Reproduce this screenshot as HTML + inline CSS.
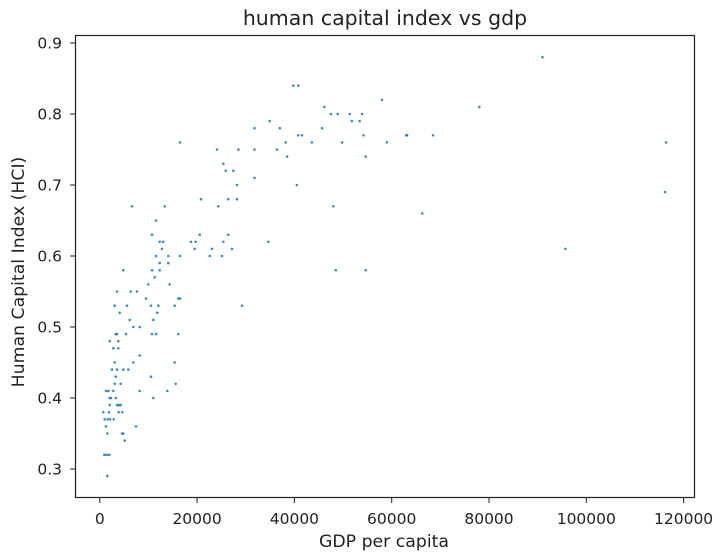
<!DOCTYPE html>
<html><head><meta charset="utf-8"><style>
body{margin:0;background:#fff}
svg{display:block;font-family:"DejaVu Sans","Liberation Sans",sans-serif}
</style></head><body>
<svg id="chart" width="727" height="557" viewBox="0 0 727 557" xmlns="http://www.w3.org/2000/svg">
<rect width="727" height="557" fill="#fff"/>
<text x="385" y="25" font-size="20.5" text-anchor="middle" fill="#222">human capital index vs gdp</text>
<text x="384" y="547" font-size="17.3" text-anchor="middle" fill="#222">GDP per capita</text>
<text transform="translate(24,272) rotate(-90)" font-size="17.3" text-anchor="middle" fill="#222">Human Capital Index (HCI)</text>
<g id="ticks"></g>
<g id="points"></g>
<rect x="75.5" y="35.5" width="619" height="462" fill="none" stroke="#222" stroke-width="1.2"/>
</svg>
<script>
const xTicks=[0,20000,40000,60000,80000,100000,120000];
const yTicks=[0.3,0.4,0.5,0.6,0.7,0.8,0.9];
const yTickLabels=["0.3","0.4","0.5","0.6","0.7","0.8","0.9"];
const gdp=[39775,40800,58000,46150,47500,48900,51370,53900,34900,51800,53400,31800,37000,45700,40800,41560,54200,63150,38200,43600,49800,59000,24100,28500,31800,36400,38500,54650,25400,25900,27450,28200,40500,31800,20800,26400,28200,24350,48000,20530,26400,18750,19700,25400,34650,19500,23060,27170,16500,22600,25100,48500,54650,29230,16500,16500,
91000,78000,68500,63000,66300,95700,116400,116200,
6620,13340,11550,10730,12300,13020,12780,11550,14080,12310,14080,4830,10730,12310,11280,9970,14370,3540,6350,7650,9500,16130,3060,5590,10520,12030,15390,4090,11820,6150,11000,6890,8200,3270,3540,5390,10730,11550,16130,2040,3800,2780,3800,8200,3060,6890,15390,2510,3540,4830,5860,10520,3270,3060,4300,15600,1270,1750,2780,8200,13870,2040,2300,3270,11000,2040,3540,4300,
3880,720,1890,3880,4620,1000,1620,2100,2860,1270,7440,1540,4560,4830,5120,930,1420,1950,1540];
const hci=[0.84,0.84,0.82,0.81,0.80,0.80,0.80,0.80,0.79,0.79,0.79,0.78,0.78,0.78,0.77,0.77,0.77,0.77,0.76,0.76,0.76,0.76,0.75,0.75,0.75,0.75,0.74,0.74,0.73,0.72,0.72,0.70,0.70,0.71,0.68,0.68,0.68,0.67,0.67,0.63,0.63,0.62,0.62,0.62,0.62,0.61,0.61,0.61,0.60,0.60,0.60,0.58,0.58,0.53,0.76,0.54,
0.88,0.81,0.77,0.77,0.66,0.61,0.76,0.69,
0.67,0.67,0.65,0.63,0.62,0.62,0.61,0.60,0.60,0.59,0.59,0.58,0.58,0.58,0.57,0.56,0.56,0.55,0.55,0.55,0.54,0.54,0.53,0.53,0.53,0.53,0.53,0.52,0.52,0.51,0.51,0.50,0.50,0.49,0.49,0.49,0.49,0.49,0.49,0.48,0.48,0.47,0.47,0.46,0.45,0.45,0.45,0.44,0.44,0.44,0.44,0.43,0.43,0.42,0.42,0.42,0.41,0.41,0.41,0.41,0.41,0.40,0.40,0.40,0.40,0.39,0.39,0.39,
0.39,0.38,0.38,0.38,0.38,0.37,0.37,0.37,0.37,0.36,0.36,0.35,0.35,0.35,0.34,0.32,0.32,0.32,0.29];
const NS="http://www.w3.org/2000/svg";
function xs(v){return 99.8+v/20000*97.3;}
function ys(v){return 43+(0.9-v)*710;}
const tg=document.getElementById('ticks');
xTicks.forEach(t=>{
  const l=document.createElementNS(NS,'line');
  l.setAttribute('x1',xs(t));l.setAttribute('x2',xs(t));l.setAttribute('y1',497.5);l.setAttribute('y2',503);l.setAttribute('stroke','#222');
  
  
  tg.appendChild(l);
  const tx=document.createElementNS(NS,'text');
  tx.setAttribute('x',xs(t));tx.setAttribute('y',524);tx.setAttribute('text-anchor','middle');tx.setAttribute('font-size','15.5');tx.setAttribute('fill','#222');
  tx.textContent=String(t);
  
  
  tg.appendChild(tx);
});
yTicks.forEach((t,i)=>{
  const l=document.createElementNS(NS,'line');
  l.setAttribute('x1',70);l.setAttribute('x2',75.5);l.setAttribute('y1',ys(t));l.setAttribute('y2',ys(t));l.setAttribute('stroke','#222');
  
  
  tg.appendChild(l);
  const tx=document.createElementNS(NS,'text');
  tx.setAttribute('x',62);tx.setAttribute('y',ys(t)+5.5);tx.setAttribute('text-anchor','end');tx.setAttribute('font-size','15.5');tx.setAttribute('fill','#222');
  tx.textContent=yTickLabels[i];
  
  
  tg.appendChild(tx);
});
const pg=document.getElementById('points');
gdp.forEach((g,i)=>{
  const c=document.createElementNS(NS,'circle');
  c.setAttribute('cx',xs(g));c.setAttribute('cy',ys(hci[i]));c.setAttribute('r',1.3);
  c.setAttribute('fill','#1f77b4');c.setAttribute('fill-opacity','0.85');
  
  
  pg.appendChild(c);
});
</script>
</body></html>
